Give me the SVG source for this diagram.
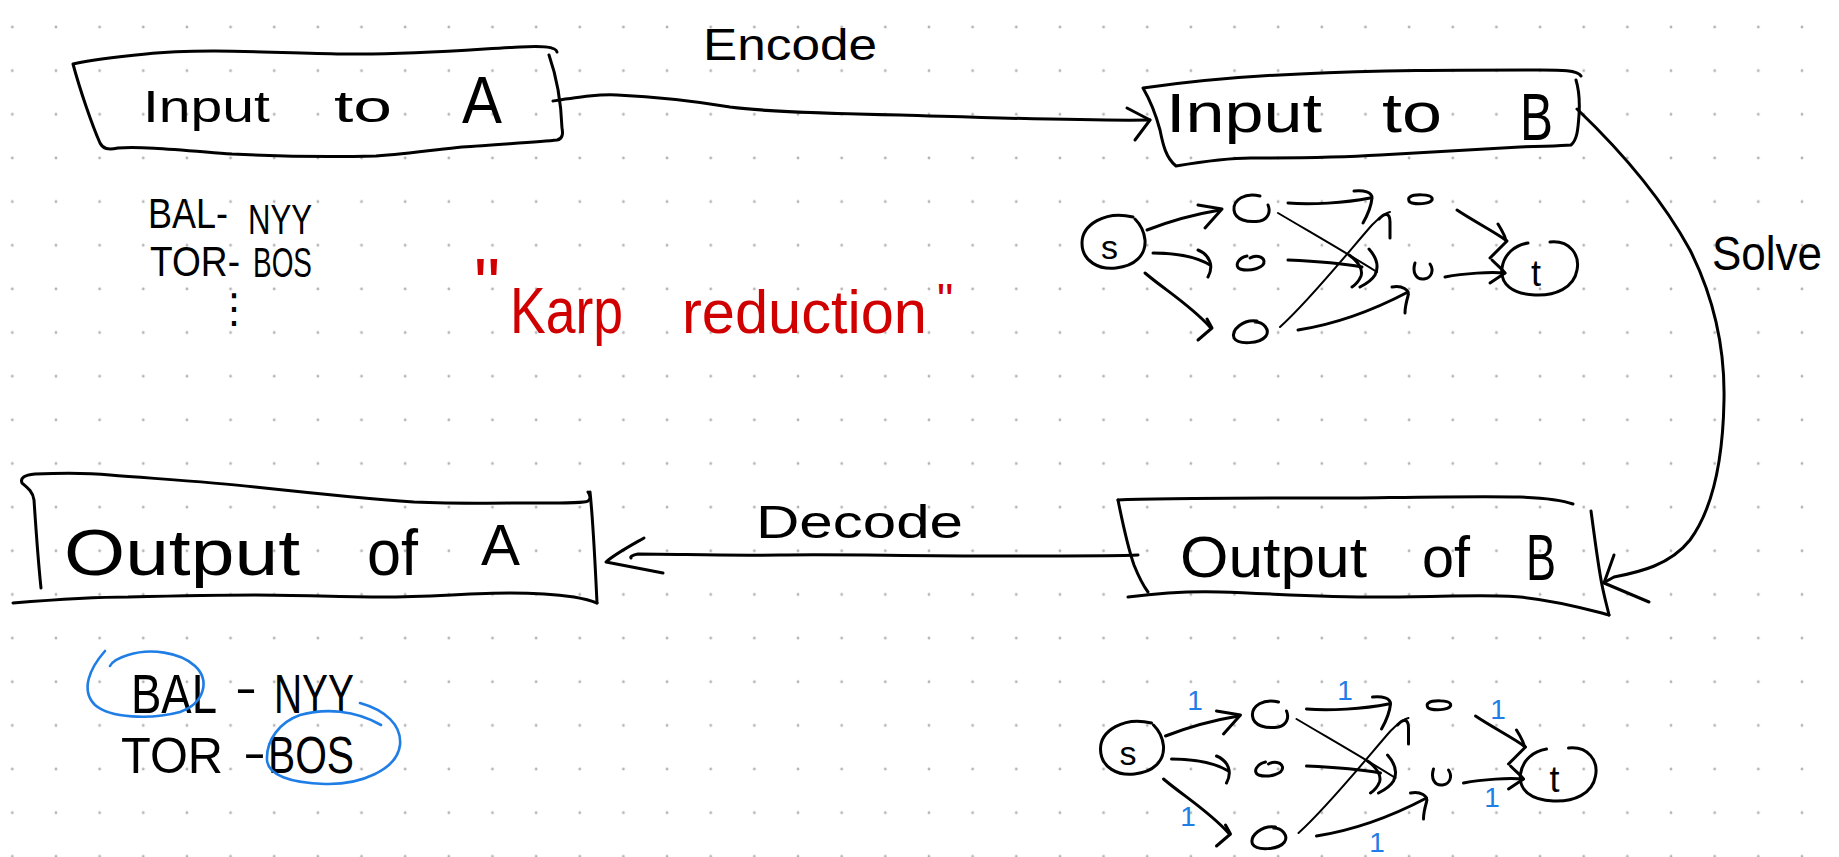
<svg xmlns="http://www.w3.org/2000/svg" width="1839" height="857" viewBox="0 0 1839 857">
  <defs>
    <!-- dotted notebook paper -->
    <pattern id="grid" x="-9.5" y="5.2" width="43.65" height="43.65" patternUnits="userSpaceOnUse">
      <circle cx="21.825" cy="21.825" r="1.4" fill="#b3b3b3"/>
    </pattern>
    <style>
      .ink { fill: none; stroke: #000; stroke-width: 3; stroke-linecap: round; stroke-linejoin: round; }
      .thin { fill: none; stroke: #000; stroke-width: 2; stroke-linecap: round; stroke-linejoin: round; }
      .blue { fill: none; stroke: #1f7de6; stroke-width: 2.6; stroke-linecap: round; stroke-linejoin: round; }
      text { font-family: "Liberation Sans", Arial, sans-serif; fill: #000; }
      .red { fill: #d10000; }
      .flow { fill: #1f7de6; font-size: 28px; text-anchor: middle; }
    </style>

    <!-- s-t flow network sketch, reused for input and output -->
    <g id="network">
      <g id="net-edges">
        <!-- s -> top -->
        <path class="ink" d="M1147,230 C1165,223 1190,215 1220,210"/>
        <path class="ink" d="M1198,205 L1222,209 L1205,228"/>
        <!-- s -> middle -->
        <path class="ink" d="M1153,253 C1175,253 1195,256 1210,265"/>
        <path class="ink" d="M1198,250 C1210,255 1214,266 1208,277"/>
        <!-- s -> bottom -->
        <path class="ink" d="M1145,273 C1165,290 1190,305 1210,327"/>
        <path class="ink" d="M1207,319 L1212,328 L1198,340"/>
        <!-- top -> upper right -->
        <path class="ink" d="M1288,203 C1310,205 1345,203 1370,198"/>
        <path class="ink" d="M1354,191 C1364,190 1372,192 1372,198 C1371,208 1367,216 1363,223"/>
        <!-- top -> lower right -->
        <path class="thin" d="M1278,213 C1310,232 1345,252 1377,272"/>
        <path class="ink" d="M1369,249 C1377,258 1379,267 1375,275 C1372,280 1366,284 1360,287"/>
        <!-- middle -> lower right -->
        <path class="ink" d="M1288,260 C1310,261 1340,263 1362,267"/>
        <path class="ink" d="M1349,255 C1359,262 1363,270 1361,276 C1359,281 1355,285 1352,287"/>
        <!-- bottom -> upper right -->
        <path class="thin" d="M1280,327 C1310,300 1350,250 1372,225 C1380,217 1385,213 1390,212"/>
        <path class="ink" d="M1379,219 C1385,212 1390,213 1390,222 L1390,238"/>
        <!-- bottom -> lower right -->
        <path class="ink" d="M1298,330 C1330,325 1370,312 1408,292"/>
        <path class="ink" d="M1392,287 C1402,285 1410,290 1408,296 C1406,303 1405,308 1405,313"/>
        <!-- upper right -> t -->
        <path class="ink" d="M1457,210 C1475,222 1495,232 1507,241"/>
        <path class="ink" d="M1498,224 C1503,232 1506,238 1506,242 C1500,248 1495,253 1490,258"/>
        <!-- lower right -> t -->
        <path class="ink" d="M1445,277 C1465,273 1490,272 1505,273"/>
        <path class="ink" d="M1492,260 C1498,266 1503,270 1505,273 L1490,283"/>
      </g>
      <g id="net-nodes">
        <g id="net-s">
          <path class="ink" d="M1133,217 C1105,210 1082,225 1082,243 C1082,262 1100,270 1116,268 C1135,266 1146,255 1145,240 C1144,230 1140,224 1135,219"/>
          <text x="1101" y="259" font-size="34">s</text>
        </g>
        <path id="net-a" class="ink" d="M1260,196 C1245,192 1233,200 1234,210 C1235,220 1248,223 1260,221 C1268,219 1271,212 1268,205"/>
        <path id="net-b" class="ink" d="M1247,256 C1238,258 1234,266 1240,269 C1250,272 1265,268 1264,261 C1263,256 1255,255 1250,258"/>
        <path id="net-c" class="ink" d="M1257,321 C1243,319 1231,330 1234,338 C1238,345 1260,344 1266,336 C1270,330 1264,322 1255,322"/>
        <path id="net-d" class="ink" d="M1410,197 C1414,194 1430,194 1432,198 C1434,203 1420,205 1412,203 C1408,202 1408,198 1410,197"/>
        <path id="net-e" class="ink" d="M1415,263 C1412,272 1416,280 1424,279 C1432,278 1434,270 1430,264"/>
        <g id="net-t">
          <path class="ink" d="M1550,242 C1570,240 1580,255 1577,270 C1574,288 1555,296 1535,295 C1512,294 1500,284 1502,268 C1504,254 1515,245 1528,243"/>
          <text x="1531" y="286" font-size="36">t</text>
        </g>
      </g>
    </g>
  </defs>

  <rect width="1839" height="857" fill="#fff"/>
  <rect width="1839" height="857" fill="url(#grid)"/>

  <!-- Input to A -->
  <g id="input-a">
    <path class="ink" d="M557,52 C556,46 540,46 520,47 C490,48 420,55 347,54 C280,53 200,48 146,54 C115,57 90,60 73,64 C80,90 92,125 100,143 C103,149 108,150 118,148 C140,146 180,150 232,154 C290,157 340,157 376,156 C410,154 440,149 462,147 C500,144 540,142 557,140 C563,139 563,133 562,128 C561,100 556,75 549,55"/>
    <text y="122" font-size="44">
      <tspan x="143" textLength="127" lengthAdjust="spacingAndGlyphs">Input</tspan>
      <tspan x="334" textLength="58" lengthAdjust="spacingAndGlyphs">to</tspan>
      <tspan x="462" y="123" font-size="66" textLength="40" lengthAdjust="spacingAndGlyphs">A</tspan>
    </text>
  </g>

  <!-- Input to B -->
  <g id="input-b">
    <path class="ink" d="M1581,76 C1578,70 1560,70 1540,70 C1450,70 1380,70 1300,74 C1250,76 1200,80 1143,88 C1150,100 1156,115 1160,130 C1163,145 1166,158 1176,166 C1200,162 1225,158 1251,158 C1300,158 1330,158 1380,155 C1430,152 1480,149 1520,147 C1545,146 1560,146 1571,145 C1577,140 1578,130 1579,115 C1580,100 1579,90 1576,80"/>
    <text y="132" font-size="55">
      <tspan x="1166" textLength="156" lengthAdjust="spacingAndGlyphs">Input</tspan>
      <tspan x="1382" textLength="60" lengthAdjust="spacingAndGlyphs">to</tspan>
      <tspan x="1520" y="140" font-size="66" textLength="33" lengthAdjust="spacingAndGlyphs">B</tspan>
    </text>
  </g>

  <!-- Output of B -->
  <g id="output-b">
    <path class="ink" d="M1118,500 C1160,498 1250,498 1352,498 C1430,497 1480,496 1520,497 C1550,498 1565,501 1573,504"/>
    <path class="ink" d="M1118,500 C1122,520 1127,545 1134,565 C1140,580 1145,588 1148,592"/>
    <path class="ink" d="M1128,597 C1160,593 1190,591 1220,592 C1280,594 1320,597 1380,597 C1440,597 1490,594 1520,597 C1560,601 1590,610 1609,615"/>
    <path class="ink" d="M1591,511 C1595,540 1598,565 1602,585 C1605,600 1608,610 1609,615"/>
    <text y="577" font-size="58">
      <tspan x="1180" textLength="187" lengthAdjust="spacingAndGlyphs">Output</tspan>
      <tspan x="1422" textLength="48" lengthAdjust="spacingAndGlyphs">of</tspan>
      <tspan x="1526" y="580" font-size="64" textLength="30" lengthAdjust="spacingAndGlyphs">B</tspan>
    </text>
  </g>

  <!-- Output of A -->
  <g id="output-a">
    <path class="ink" d="M41,588 C38,560 36,530 34,500 C33,492 28,488 22,483 C20,478 24,475 35,474 C60,473 90,473 110,475 C160,479 210,482 255,487 C320,494 370,499 414,502 C460,504 500,503 540,503 C570,503 585,503 588,501 C591,499 590,495 588,492"/>
    <path class="ink" d="M590,492 C593,520 595,560 597,603"/>
    <path class="ink" d="M13,603 C50,600 90,597 128,597 C170,596 215,595 255,595 C300,595 340,597 383,597 C430,597 470,593 510,593 C540,593 560,595 574,597 C585,599 592,601 597,603"/>
    <text y="575" font-size="65">
      <tspan x="64" textLength="236" lengthAdjust="spacingAndGlyphs">Output</tspan>
      <tspan x="367" textLength="51" lengthAdjust="spacingAndGlyphs">of</tspan>
      <tspan x="481" y="565" font-size="58" textLength="39" lengthAdjust="spacingAndGlyphs">A</tspan>
    </text>
  </g>

  <!-- connectors -->
  <g id="connectors">
    <g id="encode">
      <path class="ink" d="M553,101 C580,97 600,94 617,95 C660,97 700,102 730,107 C760,111 800,113 900,115 C1000,118 1080,121 1150,120"/>
      <path class="ink" d="M1127,108 L1150,120 L1135,140"/>
      <text x="703" y="60" font-size="44" textLength="174" lengthAdjust="spacingAndGlyphs">Encode</text>
    </g>
    <g id="solve">
      <path class="ink" d="M1577,109 C1620,150 1660,195 1690,250 C1715,300 1725,350 1724,400 C1723,460 1712,510 1690,540 C1670,565 1640,572 1614,577 L1605,582"/>
      <path class="ink" d="M1614,555 L1604,583 L1649,602"/>
      <text x="1712" y="270" font-size="48" textLength="110" lengthAdjust="spacingAndGlyphs">Solve</text>
    </g>
    <g id="decode">
      <path class="ink" d="M1138,555 C1120,556 1080,556 1000,556 C900,556 840,554 780,555 C720,556 680,554 638,554 C632,555 630,557 631,558"/>
      <path class="ink" d="M644,538 C630,546 615,554 606,562 L663,573"/>
      <text x="756" y="538" font-size="46" textLength="207" lengthAdjust="spacingAndGlyphs">Decode</text>
    </g>
  </g>

  <!-- games listed for the input -->
  <g id="games-in">
    <text y="228" font-size="42">
      <tspan x="148" textLength="80" lengthAdjust="spacingAndGlyphs">BAL-</tspan>
      <tspan x="248" y="234" textLength="64" lengthAdjust="spacingAndGlyphs">NYY</tspan>
    </text>
    <text y="276" font-size="42">
      <tspan x="150" textLength="90" lengthAdjust="spacingAndGlyphs">TOR-</tspan>
      <tspan x="253" y="277" textLength="59" lengthAdjust="spacingAndGlyphs">BOS</tspan>
    </text>
    <text x="234" y="322" font-size="40" text-anchor="middle" style="font-family:'DejaVu Sans',sans-serif">⋮</text>
  </g>

  <!-- note -->
  <g id="karp-note">
    <text class="red" x="474" y="310" font-size="74">"</text>
    <text class="red" x="510" y="333" font-size="64" textLength="113" lengthAdjust="spacingAndGlyphs">Karp</text>
    <text class="red" x="682" y="333" font-size="62" textLength="245" lengthAdjust="spacingAndGlyphs">reduction</text>
    <text class="red" x="937" y="316" font-size="46">"</text>
  </g>

  <!-- flow network for B's input -->
  <g id="network-in">
    <use href="#network"/>
  </g>

  <!-- solved flow network with unit flows -->
  <g id="network-out">
    <use href="#network" transform="translate(18.5,506)"/>
    <g id="flows">
      <text class="flow" x="1195" y="710">1</text>
      <text class="flow" x="1345" y="700">1</text>
      <text class="flow" x="1498" y="719">1</text>
      <text class="flow" x="1188" y="826">1</text>
      <text class="flow" x="1377" y="852">1</text>
      <text class="flow" x="1492" y="807">1</text>
    </g>
  </g>

  <!-- winners picked from the games -->
  <g id="games-out">
    <text x="131" y="713" font-size="56" textLength="86" lengthAdjust="spacingAndGlyphs">BAL</text>
    <text x="235" y="704" font-size="46" textLength="22" lengthAdjust="spacingAndGlyphs">-</text>
    <text x="274" y="713" font-size="56" textLength="80" lengthAdjust="spacingAndGlyphs">NYY</text>
    <text x="121" y="773" font-size="50" textLength="102" lengthAdjust="spacingAndGlyphs">TOR</text>
    <text x="243" y="769" font-size="46" textLength="23" lengthAdjust="spacingAndGlyphs">-</text>
    <text x="268" y="773" font-size="52" textLength="86" lengthAdjust="spacingAndGlyphs">BOS</text>
    <path class="blue" d="M105,651 C90,668 80,690 95,705 C110,718 150,720 180,712 C205,703 210,680 195,666 C180,652 150,648 128,655 C118,658 112,662 110,666"/>
    <path class="blue" d="M360,703 C385,710 402,725 400,745 C397,770 360,785 325,784 C290,783 268,775 267,760 C266,740 280,722 300,715 C325,708 355,710 381,725"/>
  </g>
</svg>
